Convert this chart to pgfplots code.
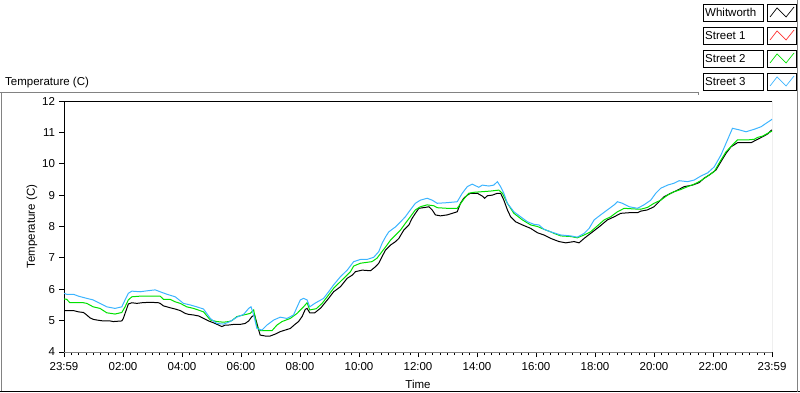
\documentclass[border=0pt]{standalone}
\usepackage{fontspec}
\setmainfont{Liberation Sans}
\usepackage{pgfplots}
\pgfplotsset{compat=1.18}
\definecolor{sgreen}{RGB}{0,225,0}
\definecolor{sblue}{RGB}{60,180,255}
\definecolor{sred}{RGB}{255,50,50}
\definecolor{framegray}{RGB}{130,130,130}
\begin{document}
\fontsize{11.5}{13}\selectfont
\begin{tikzpicture}
\useasboundingbox (0pt,0pt) rectangle (800pt,392pt);
% outer panel frame
\draw[framegray,line width=1pt] (0pt,300pt) -- (698pt,300pt) -- (698pt,297pt);
\draw[framegray,line width=1pt] (1pt,0pt) -- (1pt,300pt);
\draw[black,line width=1pt] (0pt,0.5pt) -- (800pt,0.5pt);
\draw[framegray,line width=1pt] (797.5pt,0pt) -- (797.5pt,392pt);
\node[anchor=base west,inner sep=0] at (5pt,307pt) {Temperature (C)};
% legend
\foreach \t/\name/\col in {4/Whitworth/black,27/Street 1/sred,50/Street 2/sgreen,73/Street 3/sblue}{
  \pgfmathsetmacro{\ta}{392-\t}
  \pgfmathsetmacro{\tb}{392-\t-17}
  \pgfmathsetmacro{\tm}{392-\t-8.5}
  \pgfmathsetmacro{\za}{392-\t-13}
  \pgfmathsetmacro{\zb}{392-\t-4}
  \pgfmathsetmacro{\zc}{392-\t-3}
  \draw[black,line width=0.8pt] (703pt,\ta pt) rectangle (763pt,\tb pt);
  \node[anchor=west,inner sep=0] at (705pt,\tm pt) {\name};
  \draw[black,line width=0.8pt] (767pt,\ta pt) rectangle (796pt,\tb pt);
  \draw[\col,line width=0.7pt] (770pt,\za pt) -- (777pt,\zb pt) -- (786pt,\za pt) -- (794pt,\zc pt);
}
\begin{axis}[
  at={(64pt,40pt)}, anchor=south west,
  scale only axis, width=708pt, height=251pt,
  xmin=0, xmax=24, ymin=4, ymax=12,
  axis line style={draw=none},
  xtick={0,2,...,24},
  xticklabels={23:59,02:00,04:00,06:00,08:00,10:00,12:00,14:00,16:00,18:00,20:00,22:00,23:59},
  minor x tick num=7,
  ytick={4,5,...,12},
  tick align=outside,
  xtick pos=bottom, ytick pos=left,
  major tick length=5pt, minor tick length=3pt,
  tick style={black, line width=0.8pt},
  /pgf/number format/assume math mode=true,
  tick label style={font=\fontsize{11.5}{13}\selectfont},
  x tick label style={yshift=-1pt},
  label style={font=\fontsize{11.5}{13}\selectfont},
  xlabel={Time}, ylabel={Temperature (C)},
  xlabel style={yshift=-2pt},
  ylabel style={yshift=-3pt},
  clip=true,
]
\draw[black,line width=1pt] (rel axis cs:0,0) -- (rel axis cs:0,1) -- (rel axis cs:1,1);
\draw[framegray,line width=1pt] (rel axis cs:1,1) -- (rel axis cs:1,0) -- (rel axis cs:0,0);
\addplot[black,line width=1pt] coordinates {
(0,5.32)(0.32,5.32)(0.49,5.28)(0.66,5.26)(0.77,5.18)(0.88,5.09)(0.99,5.04)(1.11,5.02)(1.33,4.99)(1.56,4.99)(1.67,4.97)(1.96,4.99)(2.01,5.07)(2.13,5.39)(2.18,5.53)(2.30,5.57)(2.47,5.55)(2.64,5.57)(2.81,5.58)(3.03,5.58)(3.20,5.57)(3.26,5.55)(3.37,5.47)(3.49,5.44)(3.60,5.41)(3.77,5.37)(3.94,5.32)(4.11,5.23)(4.22,5.20)(4.39,5.18)(4.56,5.15)(4.73,5.07)(4.90,4.99)(5.07,4.93)(5.24,4.86)(5.35,4.81)(5.47,4.86)(5.58,4.86)(5.75,4.88)(5.97,4.88)(6.14,4.91)(6.26,4.99)(6.37,5.13)(6.46,5.18)(6.54,4.91)(6.60,4.70)(6.65,4.54)(6.82,4.51)(6.99,4.51)(7.16,4.57)(7.33,4.65)(7.50,4.70)(7.67,4.75)(7.84,4.89)(7.95,4.97)(8.07,5.13)(8.18,5.36)(8.24,5.39)(8.33,5.25)(8.50,5.25)(8.70,5.40)
(8.97,5.71)(9.14,5.92)(9.37,6.08)(9.60,6.35)(9.77,6.45)(9.88,6.56)(10.11,6.61)(10.39,6.59)(10.56,6.72)(10.67,6.83)(10.78,7.04)(10.90,7.25)(11.07,7.41)(11.24,7.52)(11.35,7.62)(11.52,7.89)(11.69,8.05)(11.80,8.26)(11.91,8.42)(12.03,8.58)(12.25,8.61)(12.37,8.63)(12.48,8.53)(12.59,8.37)(12.76,8.34)(12.99,8.37)(13.16,8.42)(13.33,8.47)(13.44,8.74)(13.55,8.90)(13.67,9.00)(13.78,9.06)(14.01,9.06)(14.18,8.97)(14.26,8.90)(14.35,8.98)(14.52,9.00)(14.69,9.06)(14.80,9.06)(14.91,8.84)(15.03,8.53)(15.14,8.31)(15.31,8.15)(15.54,8.05)(15.82,7.94)(16.05,7.80)(16.27,7.73)
(16.50,7.62)(16.78,7.52)(17.01,7.48)(17.29,7.52)(17.46,7.48)(17.63,7.62)(17.85,7.78)(18.14,7.99)(18.42,8.21)(18.65,8.31)(18.87,8.42)(19.16,8.44)(19.44,8.44)(19.55,8.49)(19.78,8.53)(20.00,8.63)(20.17,8.79)(20.34,8.95)(20.57,9.06)(20.80,9.16)(21.02,9.27)(21.31,9.32)(21.53,9.40)(21.70,9.54)(21.87,9.64)(22.10,9.80)(22.27,10.07)(22.44,10.33)(22.61,10.54)(22.83,10.67)(23.06,10.67)(23.29,10.67)(23.51,10.78)(23.68,10.86)(23.85,10.95)(23.96,11.05)(24.0,11.08)
};
\addplot[sgreen,line width=1pt] coordinates {
(0,5.69)(0.09,5.68)(0.20,5.57)(0.66,5.57)(0.77,5.55)(0.99,5.44)(1.22,5.39)(1.45,5.25)(1.73,5.21)(1.96,5.26)(2.07,5.44)(2.18,5.66)(2.30,5.76)(2.58,5.78)(3.26,5.78)(3.37,5.68)(3.60,5.68)(3.77,5.60)(3.94,5.55)(4.16,5.44)(4.39,5.39)(4.73,5.28)(4.96,5.02)(5.18,4.97)(5.41,4.95)(5.58,4.97)(5.69,5.00)(5.86,5.13)(6.09,5.18)(6.31,5.23)(6.43,5.34)(6.54,4.81)(6.65,4.68)(7.05,4.68)(7.22,4.86)(7.39,4.97)(7.67,5.07)(7.90,5.23)(8.12,5.44)(8.24,5.57)(8.33,5.34)(8.55,5.38)(8.75,5.55)
(8.97,5.82)(9.14,6.03)(9.31,6.19)(9.54,6.40)(9.71,6.56)(9.82,6.74)(10.05,6.83)(10.44,6.88)(10.61,6.99)(10.78,7.20)(10.95,7.41)(11.07,7.57)(11.24,7.73)(11.41,7.89)(11.57,8.10)(11.74,8.31)(11.91,8.53)(12.08,8.63)(12.31,8.69)(12.54,8.66)(12.65,8.60)(12.99,8.58)(13.33,8.58)(13.55,8.87)(13.72,9.06)(13.89,9.09)(14.18,9.11)(14.46,9.13)(14.74,9.16)(14.86,9.06)(15.03,8.74)(15.25,8.42)(15.54,8.21)(15.82,8.05)(16.05,8.00)(16.27,7.91)(16.50,7.83)
(16.61,7.78)(16.84,7.70)(17.18,7.68)(17.40,7.64)(17.63,7.73)(17.85,7.83)(18.08,8.02)(18.31,8.21)(18.53,8.31)(18.76,8.47)(18.99,8.58)(19.33,8.56)(19.55,8.55)(19.78,8.61)(20.00,8.74)(20.23,8.84)(20.46,9.00)(20.68,9.11)(20.91,9.18)(21.14,9.27)(21.36,9.35)(21.59,9.46)(21.82,9.61)(22.04,9.75)(22.27,10.12)(22.44,10.38)(22.66,10.60)(22.83,10.76)(23.17,10.76)(23.40,10.78)(23.51,10.84)(23.68,10.88)(23.85,10.97)(24.0,11.04)
};
\addplot[sblue,line width=1pt] coordinates {
(0,5.87)(0.09,5.84)(0.32,5.84)(0.49,5.78)(0.77,5.71)(0.99,5.66)(1.22,5.55)(1.45,5.44)(1.73,5.39)(1.96,5.44)(2.07,5.66)(2.18,5.87)(2.30,5.94)(2.58,5.92)(2.81,5.95)(3.09,5.98)(3.26,5.92)(3.49,5.84)(3.77,5.76)(4.05,5.55)(4.28,5.50)(4.50,5.44)(4.73,5.37)(4.96,5.07)(5.18,4.91)(5.41,4.89)(5.63,4.97)(5.86,5.11)(6.09,5.20)(6.26,5.39)(6.34,5.44)(6.43,5.18)(6.54,4.75)(6.71,4.70)(6.88,4.86)(7.11,5.02)(7.33,5.11)(7.56,5.07)(7.78,5.18)(8.01,5.66)(8.12,5.71)(8.24,5.66)(8.33,5.44)(8.50,5.55)(8.80,5.71)
(8.97,5.92)(9.14,6.14)(9.37,6.40)(9.60,6.61)(9.82,6.88)(10.05,6.95)(10.27,6.95)(10.50,7.02)(10.67,7.20)(10.78,7.46)(10.90,7.67)(11.01,7.83)(11.24,7.99)(11.41,8.15)(11.57,8.31)(11.74,8.53)(11.91,8.74)(12.08,8.84)(12.31,8.90)(12.48,8.84)(12.65,8.74)(12.99,8.76)(13.33,8.79)(13.50,9.06)(13.67,9.27)(13.84,9.35)(14.06,9.25)(14.18,9.32)(14.40,9.29)(14.57,9.32)(14.69,9.43)(14.80,9.27)(14.91,9.06)(15.03,8.74)(15.25,8.47)(15.48,8.31)(15.71,8.15)(15.93,8.07)(16.10,8.05)(16.27,7.91)(16.50,7.83)
(16.84,7.73)(17.18,7.70)(17.40,7.66)(17.63,7.78)(17.80,7.94)(17.97,8.21)(18.19,8.37)(18.42,8.53)(18.65,8.69)(18.76,8.79)(18.93,8.74)(19.16,8.63)(19.44,8.58)(19.66,8.69)(19.89,8.84)(20.06,9.06)(20.23,9.22)(20.46,9.32)(20.68,9.38)(20.85,9.46)(21.14,9.43)(21.36,9.48)(21.59,9.61)(21.82,9.71)(22.04,9.90)(22.27,10.28)(22.44,10.65)(22.66,11.13)(22.89,11.08)(23.12,11.02)(23.40,11.10)(23.63,11.18)(23.80,11.29)(23.96,11.39)(24.0,11.42)
};
\end{axis}
\end{tikzpicture}
\end{document}
